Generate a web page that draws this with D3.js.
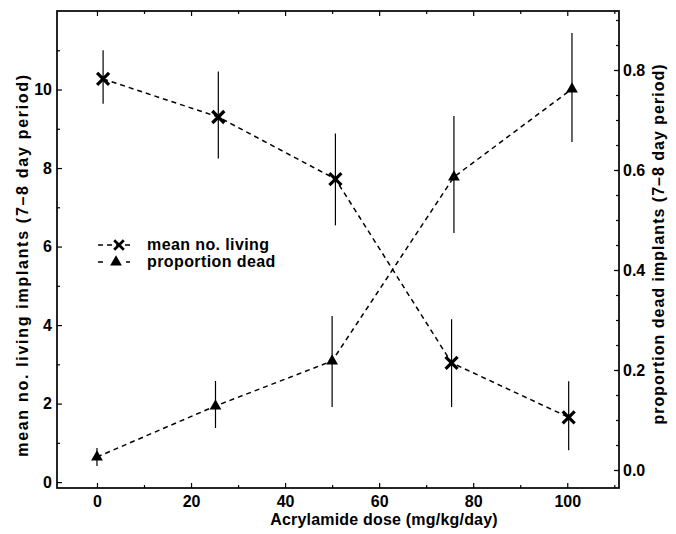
<!DOCTYPE html>
<html>
<head>
<meta charset="utf-8">
<script src="https://cdn.jsdelivr.net/npm/d3@7"></script>
<style>
  body { margin: 0; background: #fff; }
  text { font-family: "Liberation Sans", Arial, sans-serif; font-weight: bold; fill: #000; }
</style>
</head>
<body>
<div id="chart"></div>
<script>
// mean no. living implants
var livingDose = [1.3, 25.8, 50.7, 75.4, 100.3]
var livingMean = [10.27, 9.3, 7.72, 3.04, 1.65]
var livingHigh = [11.0, 10.46, 8.88, 4.15, 2.57]
var livingLow = [9.64, 8.24, 6.54, 1.91, 0.81]

// proportion dead implants
var deadDose = [0, 25.2, 50, 75.9, 101]
var deadProp = [0.026, 0.128, 0.218, 0.586, 0.762]
var deadHigh = [0.044, 0.178, 0.308, 0.708, 0.874]
var deadLow = [0.008, 0.084, 0.126, 0.474, 0.656]

var xTicks = [0, 20, 40, 60, 80, 100]
var xMinor = [10, 30, 50, 70, 90, 110]
var yLeftTicks = [0, 2, 4, 6, 8, 10]
var yLeftMinor = [1, 3, 5, 7, 9, 11]
var yRightTicks = [0, 0.2, 0.4, 0.6, 0.8]
var yRightMinor = d3.range(0, 0.91, 0.05)

var legendLabels = ['mean no. living', 'proportion dead']

const width = 676
const height = 534
var plot = { left: 57, right: 619, top: 11, bottom: 488 }

var x = d3.scaleLinear().domain([-8.5, 111]).range([plot.left, plot.right])
var yL = d3.scaleLinear().domain([-0.15, 12]).range([plot.bottom, plot.top])
var yR = d3.scaleLinear().domain([-0.036, 0.918]).range([plot.bottom, plot.top])

const svg = d3.select('#chart')
    .append('svg')
    .attr('width', width)
    .attr('height', height)
    .style('background', '#fff')

// frame
svg.append('rect')
    .attr('x', plot.left)
    .attr('y', plot.top)
    .attr('width', plot.right - plot.left)
    .attr('height', plot.bottom - plot.top)
    .attr('fill', 'none')
    .attr('stroke', '#000')
    .attr('stroke-width', 1.7)

function addAxis(axis, tx, ty) {
    var g = svg.append('g')
        .attr('transform', 'translate(' + tx + ',' + ty + ')')
        .style('font-size', '16px')
        .call(axis)
    g.select('.domain').remove()
    g.selectAll('line').attr('stroke', '#000').attr('stroke-width', 1.2)
    g.selectAll('text').attr('font-family', null).attr('font-size', null)
    return g
}

// ticks all point into the plot
addAxis(d3.axisBottom(x).tickValues(xTicks).tickSize(-5).tickPadding(8), 0, plot.bottom)
addAxis(d3.axisBottom(x).tickValues(xMinor.filter(v => v < 111)).tickSize(-3).tickFormat(''), 0, plot.bottom)
addAxis(d3.axisTop(x).tickValues(xTicks).tickSize(-5).tickFormat(''), 0, plot.top)
addAxis(d3.axisTop(x).tickValues(xMinor.filter(v => v < 111)).tickSize(-3).tickFormat(''), 0, plot.top)

addAxis(d3.axisLeft(yL).tickValues(yLeftTicks).tickSize(-5).tickPadding(5), plot.left, 0)
addAxis(d3.axisLeft(yL).tickValues(yLeftMinor).tickSize(-3).tickFormat(''), plot.left, 0)

addAxis(d3.axisRight(yR).tickValues(yRightTicks).tickSize(-5).tickPadding(4).tickFormat(d3.format('.1f')), plot.right, 0)
addAxis(d3.axisRight(yR).tickValues(yRightMinor).tickSize(-3).tickFormat(''), plot.right, 0)

// axis titles
svg.append('text')
    .attr('x', 384)
    .attr('y', 525)
    .attr('text-anchor', 'middle')
    .style('font-size', '16px')
    .style('letter-spacing', '0.2px')
    .text('Acrylamide dose (mg/kg/day)')

svg.append('text')
    .attr('transform', 'translate(28,265) rotate(-90)')
    .attr('text-anchor', 'middle')
    .style('font-size', '16px')
    .style('letter-spacing', '1.7px')
    .text('mean no. living implants (7\u20138 day period)')

svg.append('text')
    .attr('transform', 'translate(664,244) rotate(-90)')
    .attr('text-anchor', 'middle')
    .style('font-size', '16px')
    .style('letter-spacing', '1px')
    .text('proportion dead implants (7\u20138 day period)')

var idx = d3.range(livingDose.length)
var xPath = 'M-6,-6L6,6M-6,6L6,-6'
var triPath = d3.symbol().type(d3.symbolTriangle).size(60)()

// error bars
svg.append('g').selectAll('line')
    .data(idx).enter()
    .append('line')
    .attr('x1', i => x(livingDose[i]))
    .attr('x2', i => x(livingDose[i]))
    .attr('y1', i => yL(livingLow[i]))
    .attr('y2', i => yL(livingHigh[i]))
    .attr('stroke', '#000')
    .attr('stroke-width', 1.2)

svg.append('g').selectAll('line')
    .data(d3.range(deadDose.length)).enter()
    .append('line')
    .attr('x1', i => x(deadDose[i]))
    .attr('x2', i => x(deadDose[i]))
    .attr('y1', i => yR(deadLow[i]))
    .attr('y2', i => yR(deadHigh[i]))
    .attr('stroke', '#000')
    .attr('stroke-width', 1.2)

// dashed connecting lines
var livingLine = d3.line().x(i => x(livingDose[i])).y(i => yL(livingMean[i]))
var deadLine = d3.line().x(i => x(deadDose[i])).y(i => yR(deadProp[i]))

svg.append('path')
    .attr('d', livingLine(idx))
    .attr('fill', 'none')
    .attr('stroke', '#000')
    .attr('stroke-width', 1.5)
    .attr('stroke-dasharray', '5,4')

svg.append('path')
    .attr('d', deadLine(d3.range(deadDose.length)))
    .attr('fill', 'none')
    .attr('stroke', '#000')
    .attr('stroke-width', 1.5)
    .attr('stroke-dasharray', '5,4')

// markers
svg.append('g').selectAll('path')
    .data(idx).enter()
    .append('path')
    .attr('transform', i => 'translate(' + x(livingDose[i]) + ',' + yL(livingMean[i]) + ')')
    .attr('d', xPath)
    .attr('fill', 'none')
    .attr('stroke', '#000')
    .attr('stroke-width', 3.2)

svg.append('g').selectAll('path')
    .data(d3.range(deadDose.length)).enter()
    .append('path')
    .attr('transform', i => 'translate(' + x(deadDose[i]) + ',' + yR(deadProp[i]) + ')')
    .attr('d', triPath)
    .attr('fill', '#000')

// legend
var legend = svg.append('g')
var rows = [
    { y: 245, marker: 'x' },
    { y: 262, marker: 'tri' }
]
rows.forEach(function(r, i) {
    legend.append('line')
        .attr('x1', 98).attr('x2', 134)
        .attr('y1', r.y).attr('y2', r.y)
        .attr('stroke', '#000')
        .attr('stroke-width', 1.5)
        .attr('stroke-dasharray', '5,4')
    if (r.marker === 'x') {
        legend.append('path')
            .attr('transform', 'translate(119,' + r.y + ') scale(0.8)')
            .attr('d', xPath)
            .attr('fill', 'none')
            .attr('stroke', '#000')
            .attr('stroke-width', 3.4)
    } else {
        legend.append('rect')
            .attr('x', 106).attr('y', r.y - 5)
            .attr('width', 20).attr('height', 10)
            .attr('fill', '#fff')
        legend.append('path')
            .attr('transform', 'translate(116,' + r.y + ')')
            .attr('d', triPath)
            .attr('fill', '#000')
    }
    legend.append('text')
        .attr('x', 147)
        .attr('y', r.y + 5)
        .style('font-size', '16px')
        .style('letter-spacing', '0.4px')
        .text(legendLabels[i])
})
</script>
</body>
</html>
